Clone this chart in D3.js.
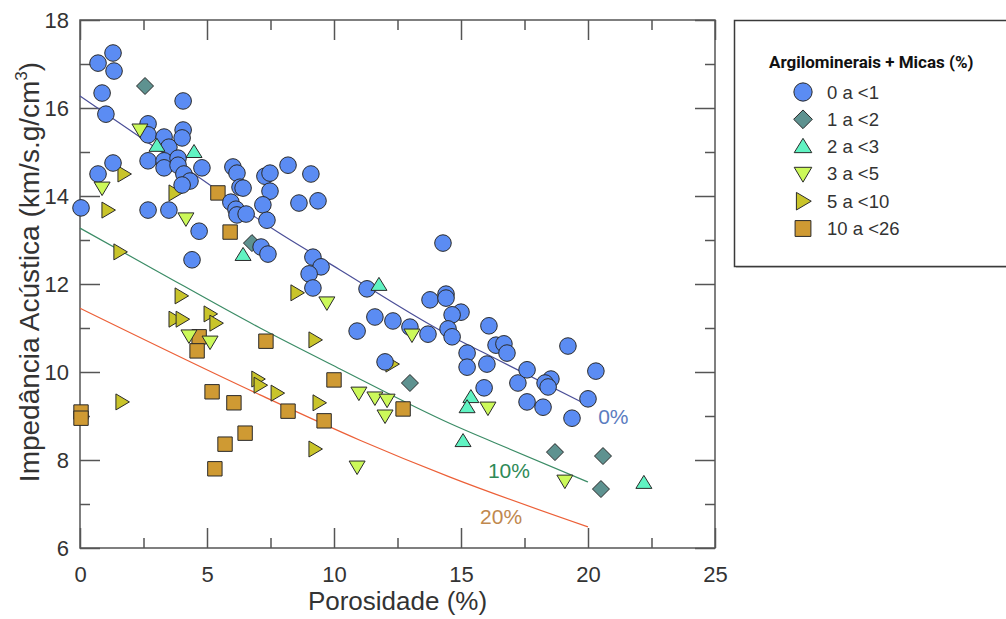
<!DOCTYPE html>
<html>
	<head>
		<meta charset="utf-8">
		<title>Impedancia x Porosidade</title>
		<script src="https://d3js.org/d3.v7.min.js"></script>
		<style>
			body { margin: 0; background: #fff; }
		</style>
	</head>
	<body>
		<div id="chart"></div>
		<script>
			//Data
			var grp0 = [ // 0 a <1
				[0.04,13.73],[0.71,17.02],[1.30,17.25],[1.34,16.84],[0.87,16.34],[1.02,15.86],[0.71,14.50],[1.30,14.75],
				[4.06,16.16],[2.68,15.64],[2.68,15.39],[3.31,15.34],[3.50,15.11],[4.06,15.50],[4.02,15.32],[2.68,14.80],
				[3.31,14.80],[3.31,14.64],[3.86,14.86],[3.86,14.70],[4.09,14.50],[4.33,14.34],[4.02,14.25],[4.80,14.64],
				[2.68,13.68],[3.50,13.68],[4.69,13.20],[4.41,12.55],[6.02,14.66],[6.18,14.52],[6.30,14.20],[6.42,14.18],
				[7.28,14.45],[7.48,14.52],[7.48,14.11],[8.19,14.70],[9.09,14.50],[5.94,13.86],[6.14,13.70],[6.18,13.57],
				[6.54,13.59],[7.20,13.80],[7.36,13.45],[8.62,13.84],[9.37,13.89],[7.13,12.84],[7.40,12.68],[9.17,12.61],
				[9.49,12.39],[9.02,12.23],[9.17,11.91],[14.29,12.93],[11.30,11.89],[13.78,11.64],[14.41,11.77],[14.41,11.68],
				[15.00,11.36],[14.65,11.30],[11.61,11.25],[12.32,11.16],[12.99,11.02],[10.91,10.93],[13.70,10.86],[14.49,10.98],
				[14.65,10.80],[16.10,11.05],[16.38,10.61],[16.69,10.64],[16.81,10.43],[15.24,10.43],[15.24,10.11],[16.02,10.18],
				[15.91,9.64],[12.01,10.23],[17.24,9.75],[19.21,10.59],[20.31,10.02],[17.60,10.05],[18.54,9.84],[18.31,9.75],
				[18.43,9.66],[20.00,9.39],[17.60,9.32],[18.23,9.20],[19.37,8.95]
			];
			var grp1 = [[2.56,16.50],[6.77,12.93],[12.99,9.75],[18.70,8.18],[20.59,8.09],[20.51,7.34]]; // 1 a <2
			var grp2 = [[3.03,15.14],[4.49,15.00],[6.42,12.66],[11.77,11.98],[15.39,9.43],[15.24,9.20],[15.08,8.43],[22.20,7.48]]; // 2 a <3
			var grp3 = [ // 3 a <5
				[2.36,15.50],[0.87,14.18],[4.17,13.48],[4.29,10.82],[5.12,10.68],[9.72,11.57],[13.07,10.84],
				[10.98,9.52],[11.61,9.41],[12.09,9.36],[12.01,9.00],[10.91,7.84],[16.06,9.18],[19.09,7.52]
			];
			var grp5 = [ // 5 a <10
				[1.73,14.50],[1.10,13.68],[1.57,12.73],[3.74,14.07],[3.98,11.73],[3.74,11.20],[4.02,11.20],[5.12,11.32],
				[5.35,11.11],[1.65,9.32],[7.00,9.84],[7.09,9.70],[8.54,11.80],[9.25,10.73],[7.76,9.52],[9.41,9.30],
				[9.25,8.25],[12.28,10.18]
			];
			var grp10 = [ // 10 a <26
				[0.04,9.09],[0.04,8.95],[5.43,14.07],[5.91,13.18],[4.69,10.80],[4.61,10.48],[7.32,10.70],[5.20,9.55],
				[6.06,9.30],[6.50,8.61],[5.71,8.36],[5.31,7.80],[10.00,9.82],[8.19,9.11],[9.61,8.89],[12.72,9.16]
			];
			var legendLabels = ["0 a <1", "1 a <2", "2 a <3", "3 a <5", "5 a <10", "10 a <26"];
			var legendTitle = "Argilominerais + Micas (%)";

			// trend curves for 0%, 10%, 20%
			var curve0 = [[0,16.27],[1.38,15.73],[4.72,14.41],[7.6,13.25],[10.24,12.32],[14.17,10.95],[16.54,10.25],[19.8,9.3]];
			var curve10 = [[0,13.27],[2.95,12.32],[7.09,11.0],[10.24,10.07],[14.57,8.83],[16.54,8.34],[20.0,7.5]];
			var curve20 = [[0,11.45],[7.09,9.48],[11.02,8.45],[14.57,7.61],[20.0,6.48]];
			var curveLabels = ["0%", "10%", "20%"];

			var xTicks = [0, 5, 10, 15, 20, 25];
			var xMinor = [2.5, 7.5, 12.5, 17.5, 22.5];
			var yTicks = [6, 8, 10, 12, 14, 16, 18];
			var yMinor = [7, 9, 11, 13, 15, 17];

			//Setup
			var svg = d3.select("#chart").append("svg")
				.attr("width", 1006)
				.attr("height", 619);

			var x = d3.scaleLinear().domain([0, 25]).range([80, 715]);
			var y = d3.scaleLinear().domain([6, 18]).range([548, 20]);

			var font = "'Liberation Sans', Arial, sans-serif";
			var textCol = "#333";
			var axisCol = "#555";

			// Axes (ticks point inward)
			function styleAxis(g) {
				g.select(".domain").remove();
				g.selectAll(".tick line").attr("stroke", axisCol).attr("stroke-width", 1.5);
				g.selectAll(".tick text").attr("fill", textCol).attr("font-size", "22px").attr("font-family", font);
			}
			svg.append("g").attr("transform", "translate(0,548)")
				.call(d3.axisBottom(x).tickValues(xTicks).tickSize(-20).tickPadding(18).tickFormat(d3.format("d")))
				.call(styleAxis);
			svg.append("g").attr("transform", "translate(0,548)")
				.call(d3.axisBottom(x).tickValues(xMinor).tickSize(-10).tickFormat(""))
				.call(styleAxis);
			svg.append("g").attr("transform", "translate(0,20)")
				.call(d3.axisTop(x).tickValues(xTicks).tickSize(-20).tickFormat(""))
				.call(styleAxis);
			svg.append("g").attr("transform", "translate(0,20)")
				.call(d3.axisTop(x).tickValues(xMinor).tickSize(-10).tickFormat(""))
				.call(styleAxis);
			svg.append("g").attr("transform", "translate(80,0)")
				.call(d3.axisLeft(y).tickValues(yTicks).tickSize(-20).tickPadding(11).tickFormat(d3.format("d")))
				.call(styleAxis);
			svg.append("g").attr("transform", "translate(80,0)")
				.call(d3.axisLeft(y).tickValues(yMinor).tickSize(-10).tickFormat(""))
				.call(styleAxis);
			svg.append("g").attr("transform", "translate(715,0)")
				.call(d3.axisRight(y).tickValues(yTicks).tickSize(-20).tickFormat(""))
				.call(styleAxis);
			svg.append("g").attr("transform", "translate(715,0)")
				.call(d3.axisRight(y).tickValues(yMinor).tickSize(-10).tickFormat(""))
				.call(styleAxis);

			// frame
			svg.append("rect")
				.attr("x", x(0)).attr("y", y(18))
				.attr("width", x(25) - x(0)).attr("height", y(6) - y(18))
				.attr("fill", "none").attr("stroke", axisCol).attr("stroke-width", 1.5);

			// Axis titles
			svg.append("text")
				.attr("x", (x(0) + x(25)) / 2).attr("y", 610)
				.attr("text-anchor", "middle")
				.attr("font-size", "26px").attr("font-family", font).attr("fill", textCol)
				.text("Porosidade (%)");
			var yt = svg.append("text")
				.attr("transform", "translate(39,272) rotate(-90)")
				.attr("text-anchor", "middle")
				.attr("font-size", "28px").attr("font-family", font).attr("fill", textCol);
			yt.append("tspan").text("Impedância Acústica (km/s.g/cm");
			yt.append("tspan").attr("font-size", "17px").attr("dy", -12).text("3");
			yt.append("tspan").attr("dy", 12).text(")");

			// Curves
			var line = d3.line().x(function(d) { return x(d[0]); }).y(function(d) { return y(d[1]); })
				.curve(d3.curveMonotoneX);
			var curves = [curve0, curve10, curve20];
			var curveCols = ["#4b4f98", "#3b8c66", "#ec6038"];
			curves.forEach(function(c, i) {
				svg.append("path").attr("d", line(c))
					.attr("fill", "none").attr("stroke", curveCols[i]).attr("stroke-width", 1.2);
			});

			// Symbols
			var shapes = {
				circle: function(s) { var r = 8.3 * s; return "M" + (-r) + ",0A" + r + "," + r + " 0 1,0 " + r + ",0A" + r + "," + r + " 0 1,0 " + (-r) + ",0Z"; },
				diamond: function(s) { var h = 8.5 * s; return "M0," + (-h) + "L" + h + ",0L0," + h + "L" + (-h) + ",0Z"; },
				up: function(s) { return "M0," + (-7.5 * s) + "L" + (8 * s) + "," + (5.5 * s) + "L" + (-8 * s) + "," + (5.5 * s) + "Z"; },
				down: function(s) { return "M" + (-8 * s) + "," + (-6 * s) + "L" + (8 * s) + "," + (-6 * s) + "L0," + (7.5 * s) + "Z"; },
				right: function(s) { return "M" + (-6 * s) + "," + (-8 * s) + "L" + (7.5 * s) + ",0L" + (-6 * s) + "," + (8 * s) + "Z"; },
				square: function(s) { var h = 7.2 * s; return "M" + (-h) + "," + (-h) + "H" + h + "V" + h + "H" + (-h) + "Z"; }
			};
			var groups = [
				{data: grp0, shape: "circle", fill: "#5b8cf3"},
				{data: grp1, shape: "diamond", fill: "#5e9290"},
				{data: grp2, shape: "up", fill: "#60f3c2"},
				{data: grp3, shape: "down", fill: "#ccf95a"},
				{data: grp5, shape: "right", fill: "#c9c42a"},
				{data: grp10, shape: "square", fill: "#cf9a33"}
			];
			// draw order roughly as in the picture
			[5, 4, 1, 0, 3, 2].forEach(function(k) {
				var g = groups[k];
				svg.append("g").selectAll("path").data(g.data).enter().append("path")
					.attr("transform", function(d) { return "translate(" + x(d[0]) + "," + y(d[1]) + ")"; })
					.attr("d", shapes[g.shape](1))
					.attr("fill", g.fill).attr("stroke", "#2a2a2a").attr("stroke-width", 1);
			});

			// Curve labels
			var labelPos = [[20.4, 8.82, "#5b7cc0"], [16.06, 7.59, "#2f8a57"], [15.75, 6.55, "#c0884e"]];
			curveLabels.forEach(function(t, i) {
				svg.append("text")
					.attr("x", x(labelPos[i][0])).attr("y", y(labelPos[i][1]))
					.attr("font-size", "21px").attr("font-family", font).attr("fill", labelPos[i][2])
					.text(t);
			});

			// Legend
			svg.append("rect").attr("x", 736).attr("y", 22).attr("width", 300).attr("height", 246)
				.attr("fill", "#999").attr("opacity", 0.5);
			svg.append("rect").attr("x", 734.5).attr("y", 20.5).attr("width", 300).attr("height", 246)
				.attr("fill", "#fff").attr("stroke", "#3a3a3a").attr("stroke-width", 1.5);
			svg.append("text")
				.attr("x", 769).attr("y", 68)
				.attr("font-size", "17px").attr("font-weight", "bold")
				.attr("font-family", "Roboto, 'Liberation Sans', sans-serif").attr("fill", "#111")
				.text(legendTitle);
			legendLabels.forEach(function(t, i) {
				var cy = 92 + i * 27.3;
				svg.append("path")
					.attr("transform", "translate(803," + cy + ")")
					.attr("d", shapes[groups[i].shape](1.1))
					.attr("fill", groups[i].fill).attr("stroke", "#2a2a2a").attr("stroke-width", 1);
				svg.append("text")
					.attr("x", 827).attr("y", cy + 6.5)
					.attr("font-size", "18.5px").attr("font-family", font).attr("fill", textCol)
					.text(t);
			});
		</script>
	</body>
</html>
